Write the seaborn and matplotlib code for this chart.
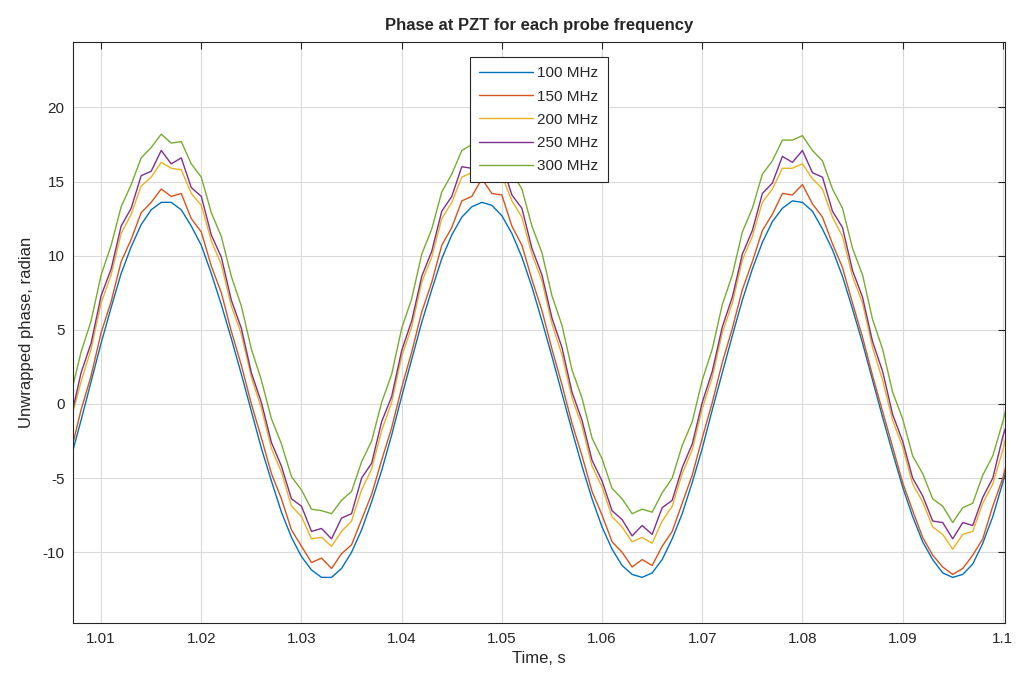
import numpy as np
import pandas as pd
import seaborn as sns
import matplotlib.pyplot as plt

# time axis, s (1 ms steps)
time = np.arange(1007, 1102) / 1000

labels = ["100 MHz", "150 MHz", "200 MHz", "250 MHz", "300 MHz"]
colors = ["#0072BD", "#D95319", "#EDB120", "#7E2F8E", "#77AC30"]

# unwrapped phase (radian)
phase_100 = [-3.6, -1.1, 1.5, 4.1, 6.5, 8.8, 10.6, 12.1, 13.1, 13.6,
             13.6, 13.1, 12.0, 10.7, 8.8, 6.7, 4.4, 2.0, -0.5, -3.0,
             -5.2, -7.3, -9.0, -10.3, -11.2, -11.7, -11.7, -11.1, -10.0, -8.5,
             -6.6, -4.5, -2.1, 0.5, 3.0, 5.5, 7.7, 9.8, 11.4, 12.6,
             13.3, 13.6, 13.4, 12.7, 11.5, 9.9, 7.9, 5.6, 3.2, 0.7,
             -1.8, -4.2, -6.4, -8.3, -9.8, -10.9, -11.5, -11.7, -11.4, -10.5,
             -9.1, -7.4, -5.3, -3.0, -0.4, 2.1, 4.6, 7.0, 9.1, 10.9,
             12.3, 13.2, 13.7, 13.6, 13.0, 11.8, 10.4, 8.6, 6.4, 4.1,
             1.6, -0.9, -3.3, -5.6, -7.6, -9.3, -10.5, -11.4, -11.7, -11.5,
             -10.8, -9.4, -7.6, -5.3, -2.7]
phase_150 = [-3.2, -0.4, 1.9, 4.8, 6.9, 9.6, 11.1, 12.9, 13.6, 14.5,
             14.0, 14.2, 12.5, 11.6, 9.3, 7.5, 4.9, 2.6, 0.0, -2.3,
             -4.7, -6.4, -8.5, -9.6, -10.7, -10.4, -11.1, -10.1, -9.5, -7.8,
             -6.1, -3.8, -1.6, 1.1, 3.5, 6.2, 8.2, 10.7, 11.9, 13.7,
             14.0, 15.2, 14.2, 14.1, 12.0, 10.7, 8.4, 6.3, 3.7, 1.3,
             -1.3, -3.5, -5.9, -7.5, -9.3, -10.0, -11.0, -10.5, -10.9, -9.6,
             -8.6, -6.7, -4.8, -2.3, 0.1, 2.8, 5.1, 7.7, 9.6, 11.7,
             12.8, 14.2, 14.1, 14.8, 13.5, 12.6, 10.8, 9.2, 6.8, 4.5,
             1.9, -0.5, -2.9, -5.3, -7.2, -9.0, -10.2, -11.0, -11.5, -11.1,
             -10.2, -9.1, -6.9, -5.0, -2.4]
phase_200 = [-1.0, 1.5, 3.7, 6.8, 8.7, 11.5, 12.8, 14.7, 15.3, 16.3,
             15.9, 15.8, 14.2, 13.4, 11.0, 9.4, 6.6, 4.7, 1.8, -0.3,
             -3.0, -4.6, -6.9, -7.6, -9.1, -9.0, -9.6, -8.6, -7.9, -5.8,
             -4.4, -1.8, 0.1, 3.2, 5.2, 8.2, 9.9, 12.5, 13.6, 15.3,
             15.6, 16.3, 15.7, 15.4, 13.7, 12.6, 10.1, 8.3, 5.4, 3.3,
             0.4, -1.5, -4.2, -5.6, -7.6, -8.3, -9.3, -9.0, -9.4, -7.9,
             -6.9, -4.7, -3.1, -0.3, 1.8, 4.8, 6.8, 9.7, 11.3, 13.6,
             14.5, 15.9, 15.9, 16.2, 15.2, 14.5, 12.6, 11.3, 8.6, 6.8,
             3.8, 1.6, -1.1, -2.9, -5.4, -6.6, -8.3, -8.8, -9.8, -8.8,
             -8.6, -6.7, -5.4, -3.1, -0.3]
phase_250 = [-0.9, 2.1, 4.1, 7.3, 9.1, 12.0, 13.2, 15.4, 15.7, 17.1,
             16.2, 16.6, 14.6, 14.0, 11.4, 9.9, 7.0, 5.1, 2.1, 0.1,
             -2.6, -4.2, -6.4, -6.9, -8.6, -8.4, -9.1, -7.7, -7.4, -5.0,
             -4.0, -1.2, 0.5, 3.6, 5.6, 8.6, 10.3, 13.0, 14.0, 16.0,
             15.9, 17.2, 16.0, 16.2, 14.1, 13.2, 10.5, 8.7, 5.8, 3.8,
             0.8, -1.1, -3.8, -5.2, -7.2, -7.8, -8.9, -8.2, -8.8, -7.0,
             -6.5, -4.3, -2.7, 0.1, 2.2, 5.2, 7.2, 10.1, 11.7, 14.2,
             14.9, 16.7, 16.3, 17.1, 15.6, 15.3, 13.0, 11.9, 9.0, 7.2,
             4.2, 2.2, -0.7, -2.5, -5.0, -6.2, -7.9, -8.0, -9.1, -8.0,
             -8.2, -6.3, -5.0, -2.2, -0.1]
phase_300 = [0.7, 3.5, 5.6, 8.7, 10.7, 13.3, 14.8, 16.6, 17.3, 18.2,
             17.6, 17.7, 16.2, 15.3, 12.9, 11.3, 8.6, 6.6, 3.7, 1.6,
             -1.0, -2.7, -4.9, -5.8, -7.1, -7.2, -7.4, -6.5, -5.9, -3.9,
             -2.5, 0.1, 2.0, 5.1, 7.1, 10.1, 11.8, 14.3, 15.5, 17.1,
             17.5, 18.1, 17.6, 17.2, 15.6, 14.5, 12.0, 10.2, 7.3, 5.3,
             2.3, 0.4, -2.3, -3.7, -5.7, -6.4, -7.4, -7.1, -7.3, -6.0,
             -5.0, -2.8, -1.2, 1.6, 3.7, 6.7, 8.7, 11.6, 13.2, 15.5,
             16.4, 17.8, 17.8, 18.1, 17.1, 16.4, 14.5, 13.2, 10.5, 8.7,
             5.7, 3.7, 0.8, -1.0, -3.5, -4.7, -6.4, -6.9, -8.0, -7.0,
             -6.7, -4.8, -3.5, -1.2, 1.6]

series = [phase_100, phase_150, phase_200, phase_250, phase_300]
df = pd.concat(
    [pd.DataFrame({"time": time, "phase": vals, "freq": lab})
     for vals, lab in zip(series, labels)],
    ignore_index=True,
)

sns.set_style("white")
plt.rcParams["font.family"] = ["Liberation Sans", "DejaVu Sans"]
plt.rcParams["axes.unicode_minus"] = False
plt.rcParams["axes.edgecolor"] = "#262626"
plt.rcParams["xtick.color"] = "#262626"
plt.rcParams["ytick.color"] = "#262626"

fig = plt.figure(figsize=(10.16, 6.84), dpi=100)
ax = fig.add_axes([0.0719, 0.0887, 0.9171, 0.8495])

sns.lineplot(data=df, x="time", y="phase", hue="freq", palette=colors,
             estimator=None, linewidth=1.0, ax=ax)

ax.set_xlim(1.0072, 1.1002)
ax.set_ylim(-14.8, 24.4)
ax.set_xticks(np.arange(101, 111) / 100)
ax.set_xticklabels(["1.01", "1.02", "1.03", "1.04", "1.05", "1.06",
                    "1.07", "1.08", "1.09", "1.1"])
ax.set_yticks([-10, -5, 0, 5, 10, 15, 20])
ax.grid(True, color="#dadada", linewidth=0.8)
ax.tick_params(direction="in", length=5, width=0.8, labelsize=11,
               top=True, right=True, pad=6)
for sp in ax.spines.values():
    sp.set_linewidth(0.8)
    sp.set_visible(True)

ax.set_title("Phase at PZT for each probe frequency", fontsize=12,
             fontweight="bold", pad=9)
ax.set_xlabel("Time, s", fontsize=12, color="#262626")
ax.set_ylabel("Unwrapped phase, radian", fontsize=12, color="#262626",
              labelpad=6)

leg = ax.legend(loc="upper center", bbox_to_anchor=(0.5, 0.982),
                fontsize=11, frameon=True, fancybox=False, framealpha=1,
                edgecolor="#262626", handlelength=3.5, labelspacing=0.6,
                borderpad=0.6, handletextpad=0.3, borderaxespad=0.3)
leg.get_frame().set_linewidth(0.8)

fig.savefig("out.png", dpi=100)
